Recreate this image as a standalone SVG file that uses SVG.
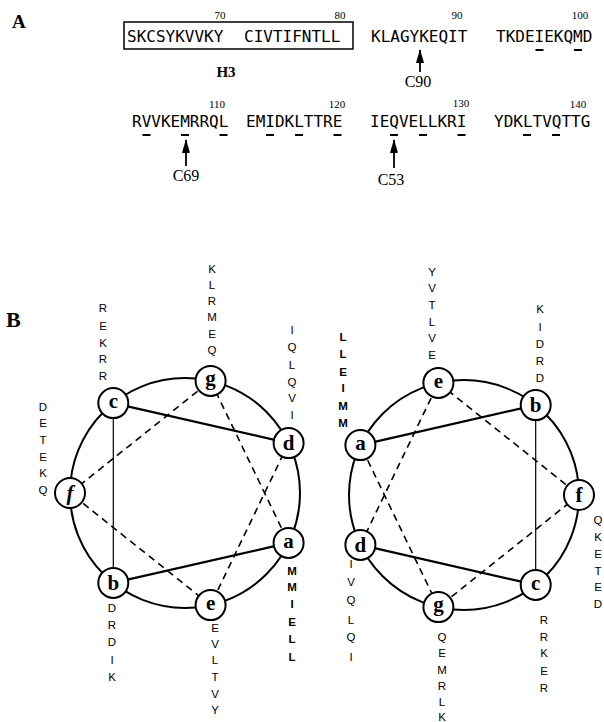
<svg xmlns="http://www.w3.org/2000/svg" width="604" height="722" viewBox="0 0 604 722">
<style>
.bg{fill:#fff}
.panel{font-family:"Liberation Serif",serif;font-weight:bold;fill:#000}
.seq{font-family:"DejaVu Sans Mono",monospace;font-size:16px;fill:#000}
.num{font-family:"Liberation Serif",serif;font-size:11px;fill:#000;text-anchor:middle}
.lbl{font-family:"Liberation Serif",serif;font-size:16px;fill:#000;text-anchor:middle}
.ul{stroke:#000;stroke-width:2}
.arrow{stroke:#000;stroke-width:1.8}
.stack{font-family:"Liberation Sans",Arial,sans-serif;font-size:11.5px;fill:#000;text-anchor:middle}
.ring{fill:none;stroke:#000;stroke-width:2}
.thick{stroke:#000;stroke-width:2.2;fill:none}
.thin{stroke:#000;stroke-width:1.2;fill:none}
.dash{stroke:#000;stroke-width:1.6;stroke-dasharray:7 5;fill:none}
.node circle{fill:#fff;stroke:#000;stroke-width:2}
.node text{font-family:"Liberation Serif",serif;font-weight:bold;font-size:21px;text-anchor:middle;fill:#000}
</style>
<defs>
<marker id="ah" viewBox="0 0 14 8" refX="13" refY="4" markerWidth="14" markerHeight="8" markerUnits="userSpaceOnUse" orient="auto">
<path d="M0,0 L14,4 L0,8 z" fill="#000"/>
</marker>
</defs>
<rect class="bg" x="0" y="0" width="604" height="722"/>

<!-- Panel A -->
<g id="panelA">
<text class="panel" x="12" y="28" font-size="19">A</text>
<rect x="124" y="22" width="229" height="27" fill="none" stroke="#000" stroke-width="1.5"/>
<text class="seq" x="127" y="42">SKCSYKVVKY</text>
<text class="seq" x="244" y="42">CIVTIFNTLL</text>
<text class="seq" x="371" y="42">KLAGYKEQIT</text>
<text class="seq" x="496" y="42">TKDEIEKQMD</text>
<text class="num" x="220" y="19">70</text>
<text class="num" x="340" y="19">80</text>
<text class="num" x="457" y="19">90</text>
<text class="num" x="580" y="19">100</text>
<text class="panel" x="226" y="77" font-size="15" text-anchor="middle">H3</text>
<line class="ul" x1="535.5" y1="50" x2="543.5" y2="50"/>
<line class="ul" x1="574" y1="50" x2="582" y2="50"/>

<text class="seq" x="132" y="127">RVVKEMRRQL</text>
<text class="seq" x="246" y="127">EMIDKLTTRE</text>
<text class="seq" x="370" y="127">IEQVELLKRI</text>
<text class="seq" x="494" y="127">YDKLTVQTTG</text>
<text class="num" x="217" y="108">110</text>
<text class="num" x="337" y="108">120</text>
<text class="num" x="461" y="107">130</text>
<text class="num" x="578" y="108">140</text>
<line class="ul" x1="142.5" y1="135" x2="150.5" y2="135"/>
<line class="ul" x1="181" y1="135" x2="189" y2="135"/>
<line class="ul" x1="219.5" y1="135" x2="227.5" y2="135"/>
<line class="ul" x1="266" y1="135" x2="274" y2="135"/>
<line class="ul" x1="295" y1="135" x2="303" y2="135"/>
<line class="ul" x1="333.5" y1="135" x2="341.5" y2="135"/>
<line class="ul" x1="390" y1="135" x2="398" y2="135"/>
<line class="ul" x1="419" y1="135" x2="427" y2="135"/>
<line class="ul" x1="457.5" y1="135" x2="465.5" y2="135"/>
<line class="ul" x1="523" y1="135" x2="531" y2="135"/>
<line class="ul" x1="552" y1="135" x2="560" y2="135"/>

<line class="arrow" x1="420" y1="72" x2="420" y2="50" marker-end="url(#ah)"/>
<text class="lbl" x="418" y="87">C90</text>
<line class="arrow" x1="186" y1="166" x2="186" y2="140" marker-end="url(#ah)"/>
<text class="lbl" x="186" y="181">C69</text>
<line class="arrow" x1="394" y1="168" x2="394" y2="140" marker-end="url(#ah)"/>
<text class="lbl" x="391" y="185">C53</text>
</g>

<!-- Panel B -->
<text class="panel" x="6" y="327" font-size="22">B</text>

<g id="rings">
<circle class="ring" cx="185" cy="493" r="115"/>
<circle class="ring" cx="464" cy="495" r="115"/>
</g>

<g id="connectors">
<!-- left wheel -->
<line class="thick" x1="113.3" y1="403.1" x2="288.6" y2="443.1"/>
<line class="thick" x1="288.6" y1="542.9" x2="113.3" y2="582.9"/>
<line class="thin" x1="113.3" y1="582.9" x2="113.3" y2="403.1"/>
<line class="dash" x1="288.6" y1="443.1" x2="210.6" y2="605.1"/>
<line class="dash" x1="210.6" y1="605.1" x2="70" y2="493"/>
<line class="dash" x1="70" y1="493" x2="210.6" y2="380.9"/>
<line class="dash" x1="210.6" y1="380.9" x2="288.6" y2="542.9"/>
<!-- right wheel -->
<line class="thick" x1="360.4" y1="445.1" x2="535.7" y2="405.1"/>
<line class="thin" x1="535.7" y1="405.1" x2="535.7" y2="584.9"/>
<line class="thick" x1="535.7" y1="584.9" x2="360.4" y2="544.9"/>
<line class="dash" x1="360.4" y1="544.9" x2="438.4" y2="382.9"/>
<line class="dash" x1="438.4" y1="382.9" x2="579" y2="495"/>
<line class="dash" x1="579" y1="495" x2="438.4" y2="607.1"/>
<line class="dash" x1="438.4" y1="607.1" x2="360.4" y2="445.1"/>
</g>

<!-- left wheel nodes -->
<g id="L-g" class="node"><circle cx="210.6" cy="380.9" r="15"/><text x="210.6" y="385">g</text></g>
<g id="L-d" class="node"><circle cx="288.6" cy="443.1" r="15"/><text x="288.6" y="450">d</text></g>
<g id="L-a" class="node"><circle cx="288.6" cy="542.9" r="15"/><text x="288.6" y="548">a</text></g>
<g id="L-e" class="node"><circle cx="210.6" cy="605.1" r="15"/><text x="210.6" y="610">e</text></g>
<g id="L-b" class="node"><circle cx="113.3" cy="582.9" r="15"/><text x="113.3" y="590">b</text></g>
<g id="L-f" class="node"><circle cx="70" cy="493" r="15"/><text x="70" y="500" font-style="italic">f</text></g>
<g id="L-c" class="node"><circle cx="113.3" cy="403.1" r="15"/><text x="113.3" y="408">c</text></g>

<!-- right wheel nodes -->
<g id="R-e" class="node"><circle cx="438.4" cy="382.9" r="15"/><text x="438.4" y="388">e</text></g>
<g id="R-b" class="node"><circle cx="535.7" cy="405.1" r="15"/><text x="535.7" y="412">b</text></g>
<g id="R-f" class="node"><circle cx="579" cy="495" r="15"/><text x="579" y="502">f</text></g>
<g id="R-c" class="node"><circle cx="535.7" cy="584.9" r="15"/><text x="535.7" y="590">c</text></g>
<g id="R-g" class="node"><circle cx="438.4" cy="607.1" r="15"/><text x="438.4" y="611">g</text></g>
<g id="R-d" class="node"><circle cx="360.4" cy="544.9" r="15"/><text x="360.4" y="552">d</text></g>
<g id="R-a" class="node"><circle cx="360.4" cy="445.1" r="15"/><text x="360.4" y="450">a</text></g>

<!-- residue stacks -->
<g id="stacks">
<text class="stack"><tspan x="103" y="312">R</tspan><tspan x="103" y="330">E</tspan><tspan x="103" y="347">K</tspan><tspan x="103" y="363">R</tspan><tspan x="103" y="380">R</tspan></text>
<text class="stack"><tspan x="43" y="411">D</tspan><tspan x="43" y="427">E</tspan><tspan x="43" y="444">T</tspan><tspan x="43" y="461">E</tspan><tspan x="43" y="477">K</tspan><tspan x="43" y="494">Q</tspan></text>
<text class="stack"><tspan x="212" y="273">K</tspan><tspan x="212" y="289">L</tspan><tspan x="212" y="305">R</tspan><tspan x="212" y="321">M</tspan><tspan x="212" y="338">E</tspan><tspan x="212" y="354">Q</tspan></text>
<text class="stack"><tspan x="292" y="334">I</tspan><tspan x="292" y="351">Q</tspan><tspan x="292" y="369">L</tspan><tspan x="292" y="386">Q</tspan><tspan x="292" y="402">V</tspan><tspan x="292" y="419">I</tspan></text>
<text class="stack" font-weight="bold"><tspan x="343" y="341">L</tspan><tspan x="343" y="358">L</tspan><tspan x="343" y="376">E</tspan><tspan x="343" y="392">I</tspan><tspan x="343" y="410">M</tspan><tspan x="343" y="427">M</tspan></text>
<text class="stack"><tspan x="112" y="612">D</tspan><tspan x="112" y="629">R</tspan><tspan x="112" y="646">D</tspan><tspan x="112" y="664">I</tspan><tspan x="112" y="681">K</tspan></text>
<text class="stack"><tspan x="215" y="632">E</tspan><tspan x="215" y="648">V</tspan><tspan x="215" y="664">L</tspan><tspan x="215" y="681">T</tspan><tspan x="215" y="698">V</tspan><tspan x="215" y="714">Y</tspan></text>
<text class="stack" font-weight="bold"><tspan x="292" y="575">M</tspan><tspan x="292" y="591">M</tspan><tspan x="292" y="608">I</tspan><tspan x="292" y="626">E</tspan><tspan x="292" y="643">L</tspan><tspan x="292" y="661">L</tspan></text>

<text class="stack"><tspan x="432" y="276">Y</tspan><tspan x="432" y="292">V</tspan><tspan x="432" y="309">T</tspan><tspan x="432" y="326">L</tspan><tspan x="432" y="342">V</tspan><tspan x="432" y="359">E</tspan></text>
<text class="stack"><tspan x="540" y="313">K</tspan><tspan x="540" y="331">I</tspan><tspan x="540" y="348">D</tspan><tspan x="540" y="365">R</tspan><tspan x="540" y="382">D</tspan></text>
<text class="stack"><tspan x="351" y="568">I</tspan><tspan x="351" y="586">V</tspan><tspan x="351" y="604">Q</tspan><tspan x="351" y="624">L</tspan><tspan x="351" y="641">Q</tspan><tspan x="351" y="661">I</tspan></text>
<text class="stack"><tspan x="442" y="641">Q</tspan><tspan x="442" y="657">E</tspan><tspan x="442" y="674">M</tspan><tspan x="442" y="690">R</tspan><tspan x="442" y="706">L</tspan><tspan x="442" y="721">K</tspan></text>
<text class="stack"><tspan x="544" y="624">R</tspan><tspan x="544" y="641">R</tspan><tspan x="544" y="657">K</tspan><tspan x="544" y="675">E</tspan><tspan x="544" y="692">R</tspan></text>
<text class="stack"><tspan x="598" y="524">Q</tspan><tspan x="598" y="541">K</tspan><tspan x="598" y="558">E</tspan><tspan x="598" y="575">T</tspan><tspan x="598" y="591">E</tspan><tspan x="598" y="608">D</tspan></text>
</g>
</svg>
